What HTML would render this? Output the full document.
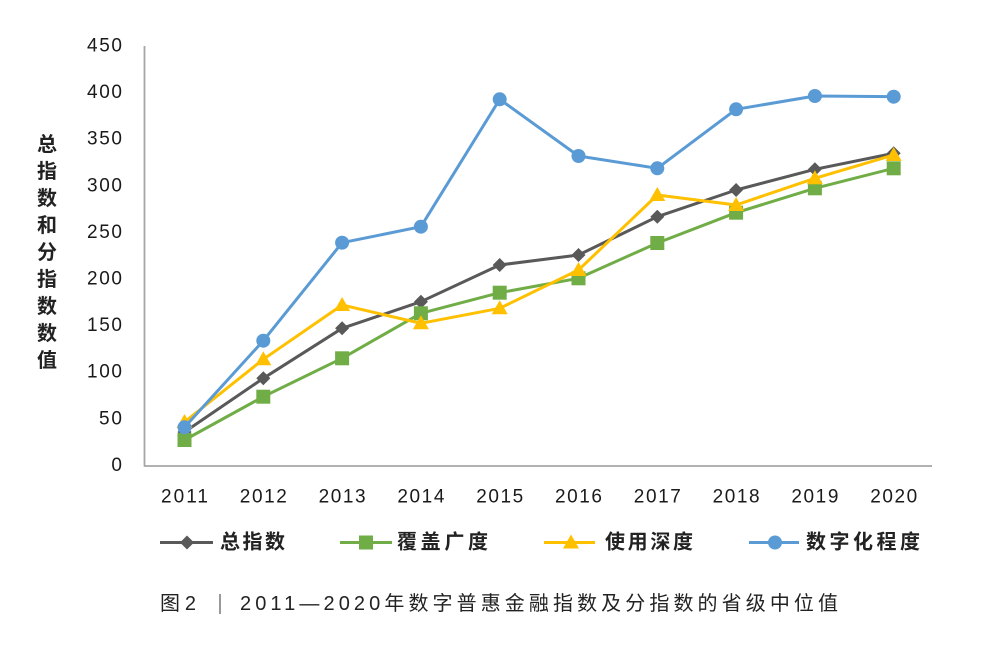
<!DOCTYPE html>
<html>
<head>
<meta charset="utf-8">
<style>
  html,body{margin:0;padding:0;background:#fff;}
  svg{display:block;}
  .tk{font-family:"Liberation Sans","DejaVu Sans",sans-serif;font-size:19px;fill:#1a1a1a;}
  .cj{font-family:"Liberation Sans","Noto Sans CJK SC",sans-serif;fill:#222;}
</style>
</head>
<body>
<svg width="1000" height="664" viewBox="0 0 1000 664" xmlns="http://www.w3.org/2000/svg">
  <rect width="1000" height="664" fill="#fff"/>
  <!-- axes -->
  <line x1="144.5" y1="46" x2="144.5" y2="466.5" stroke="#a6a6a6" stroke-width="1.8"/>
  <line x1="144" y1="466" x2="932" y2="466" stroke="#a6a6a6" stroke-width="1.8"/>

  <!-- y tick labels -->
  <g class="tk" text-anchor="end" dominant-baseline="central">
    <text x="122" y="46" textLength="35" lengthAdjust="spacing">450</text>
    <text x="122" y="92.6" textLength="35" lengthAdjust="spacing">400</text>
    <text x="122" y="139.2" textLength="35" lengthAdjust="spacing">350</text>
    <text x="122" y="185.8" textLength="35" lengthAdjust="spacing">300</text>
    <text x="122" y="232.4" textLength="35" lengthAdjust="spacing">250</text>
    <text x="122" y="279" textLength="35" lengthAdjust="spacing">200</text>
    <text x="122" y="325.6" textLength="35" lengthAdjust="spacing">150</text>
    <text x="122" y="372.2" textLength="35" lengthAdjust="spacing">100</text>
    <text x="122" y="418.8" textLength="23" lengthAdjust="spacing">50</text>
    <text x="122" y="465.4">0</text>
  </g>

  <!-- x tick labels -->
  <g class="tk" text-anchor="middle" dominant-baseline="central">
    <text x="184.5" y="497" textLength="47" lengthAdjust="spacing">2011</text>
    <text x="263.3" y="497" textLength="47" lengthAdjust="spacing">2012</text>
    <text x="342.1" y="497" textLength="47" lengthAdjust="spacing">2013</text>
    <text x="420.9" y="497" textLength="47" lengthAdjust="spacing">2014</text>
    <text x="499.7" y="497" textLength="47" lengthAdjust="spacing">2015</text>
    <text x="578.5" y="497" textLength="47" lengthAdjust="spacing">2016</text>
    <text x="657.3" y="497" textLength="47" lengthAdjust="spacing">2017</text>
    <text x="736.1" y="497" textLength="47" lengthAdjust="spacing">2018</text>
    <text x="814.9" y="497" textLength="47" lengthAdjust="spacing">2019</text>
    <text x="893.7" y="497" textLength="47" lengthAdjust="spacing">2020</text>
  </g>

  <!-- y axis title -->
  <g class="cj" font-size="20" font-weight="bold" text-anchor="middle" dominant-baseline="central" fill="#333">
    <text x="47" y="145">总</text>
    <text x="47" y="172">指</text>
    <text x="47" y="199">数</text>
    <text x="47" y="226">和</text>
    <text x="47" y="253">分</text>
    <text x="47" y="280">指</text>
    <text x="47" y="307">数</text>
    <text x="47" y="334">数</text>
    <text x="47" y="361">值</text>
  </g>

  <!-- series: gray 总指数 -->
  <polyline fill="none" stroke="#595959" stroke-width="3" stroke-linejoin="round"
    points="184.5,432 263.3,378.3 342.1,328.3 420.9,301.7 499.7,265 578.5,255 657.3,216.7 736.1,190 814.9,169.3 893.7,153.3"/>
  <g fill="#595959">
    <polygon points="184.5,425 191.5,432 184.5,439 177.5,432"/>
    <polygon points="263.3,371.3 270.3,378.3 263.3,385.3 256.3,378.3"/>
    <polygon points="342.1,321.3 349.1,328.3 342.1,335.3 335.1,328.3"/>
    <polygon points="420.9,294.7 427.9,301.7 420.9,308.7 413.9,301.7"/>
    <polygon points="499.7,258 506.7,265 499.7,272 492.7,265"/>
    <polygon points="578.5,248 585.5,255 578.5,262 571.5,255"/>
    <polygon points="657.3,209.7 664.3,216.7 657.3,223.7 650.3,216.7"/>
    <polygon points="736.1,183 743.1,190 736.1,197 729.1,190"/>
    <polygon points="814.9,162.3 821.9,169.3 814.9,176.3 807.9,169.3"/>
    <polygon points="893.7,146.3 900.7,153.3 893.7,160.3 886.7,153.3"/>
  </g>

  <!-- series: green 覆盖广度 -->
  <polyline fill="none" stroke="#70ad47" stroke-width="3" stroke-linejoin="round"
    points="184.5,440 263.3,396.7 342.1,358.3 420.9,313.3 499.7,292.7 578.5,278.3 657.3,243 736.1,212.7 814.9,188.3 893.7,168.3"/>
  <g fill="#70ad47">
    <rect x="177.5" y="433" width="14" height="14"/>
    <rect x="256.3" y="389.7" width="14" height="14"/>
    <rect x="335.1" y="351.3" width="14" height="14"/>
    <rect x="413.9" y="306.3" width="14" height="14"/>
    <rect x="492.7" y="285.7" width="14" height="14"/>
    <rect x="571.5" y="271.3" width="14" height="14"/>
    <rect x="650.3" y="236" width="14" height="14"/>
    <rect x="729.1" y="205.7" width="14" height="14"/>
    <rect x="807.9" y="181.3" width="14" height="14"/>
    <rect x="886.7" y="161.3" width="14" height="14"/>
  </g>

  <!-- series: yellow 使用深度 -->
  <polyline fill="none" stroke="#ffc000" stroke-width="3" stroke-linejoin="round"
    points="184.5,422 263.3,359.3 342.1,305 420.9,323.3 499.7,308.3 578.5,270 657.3,195 736.1,205 814.9,178.3 893.7,155"/>
  <g fill="#ffc000">
    <polygon points="184.5,414 192.5,428 176.5,428"/>
    <polygon points="263.3,351.3 271.3,365.3 255.3,365.3"/>
    <polygon points="342.1,297 350.1,311 334.1,311"/>
    <polygon points="420.9,315.3 428.9,329.3 412.9,329.3"/>
    <polygon points="499.7,300.3 507.7,314.3 491.7,314.3"/>
    <polygon points="578.5,262 586.5,276 570.5,276"/>
    <polygon points="657.3,187 665.3,201 649.3,201"/>
    <polygon points="736.1,197 744.1,211 728.1,211"/>
    <polygon points="814.9,170.3 822.9,184.3 806.9,184.3"/>
    <polygon points="893.7,147 901.7,161 885.7,161"/>
  </g>

  <!-- series: blue 数字化程度 -->
  <polyline fill="none" stroke="#5b9bd5" stroke-width="3" stroke-linejoin="round"
    points="184.5,427.3 263.3,340.7 342.1,242.7 420.9,226.7 499.7,99.3 578.5,156 657.3,168.3 736.1,109.3 814.9,96 893.7,96.7"/>
  <g fill="#5b9bd5">
    <circle cx="184.5" cy="427.3" r="7"/>
    <circle cx="263.3" cy="340.7" r="7"/>
    <circle cx="342.1" cy="242.7" r="7"/>
    <circle cx="420.9" cy="226.7" r="7"/>
    <circle cx="499.7" cy="99.3" r="7"/>
    <circle cx="578.5" cy="156" r="7"/>
    <circle cx="657.3" cy="168.3" r="7"/>
    <circle cx="736.1" cy="109.3" r="7"/>
    <circle cx="814.9" cy="96" r="7"/>
    <circle cx="893.7" cy="96.7" r="7"/>
  </g>

  <!-- legend -->
  <line x1="160" y1="542.5" x2="213" y2="542.5" stroke="#595959" stroke-width="3"/>
  <polygon points="187,535.5 194,542.5 187,549.5 180,542.5" fill="#595959"/>
  <line x1="340" y1="542.5" x2="392" y2="542.5" stroke="#70ad47" stroke-width="3"/>
  <rect x="359" y="535.5" width="14" height="14" fill="#70ad47"/>
  <line x1="544" y1="542.5" x2="595" y2="542.5" stroke="#ffc000" stroke-width="3"/>
  <polygon points="571,534.5 579,548.5 563,548.5" fill="#ffc000"/>
  <line x1="749" y1="542.5" x2="799" y2="542.5" stroke="#5b9bd5" stroke-width="3"/>
  <circle cx="775" cy="542.5" r="7" fill="#5b9bd5"/>

  <g class="cj" font-size="20" font-weight="bold" dominant-baseline="central">
    <text x="220" y="542.5" textLength="65" lengthAdjust="spacing">总指数</text>
    <text x="397" y="542.5" textLength="91" lengthAdjust="spacing">覆盖广度</text>
    <text x="605" y="542.5" textLength="88" lengthAdjust="spacing">使用深度</text>
    <text x="806" y="542.5" textLength="114" lengthAdjust="spacing">数字化程度</text>
  </g>

  <!-- caption -->
  <g class="cj" font-size="20" dominant-baseline="central" fill="#333">
    <text x="160" y="604" textLength="36" lengthAdjust="spacing">图2</text>
    <line x1="220" y1="594" x2="220" y2="614" stroke="#555" stroke-width="1.2"/>
    <text x="240" y="604" textLength="598" lengthAdjust="spacing">2011—2020年数字普惠金融指数及分指数的省级中位值</text>
  </g>
</svg>
</body>
</html>
